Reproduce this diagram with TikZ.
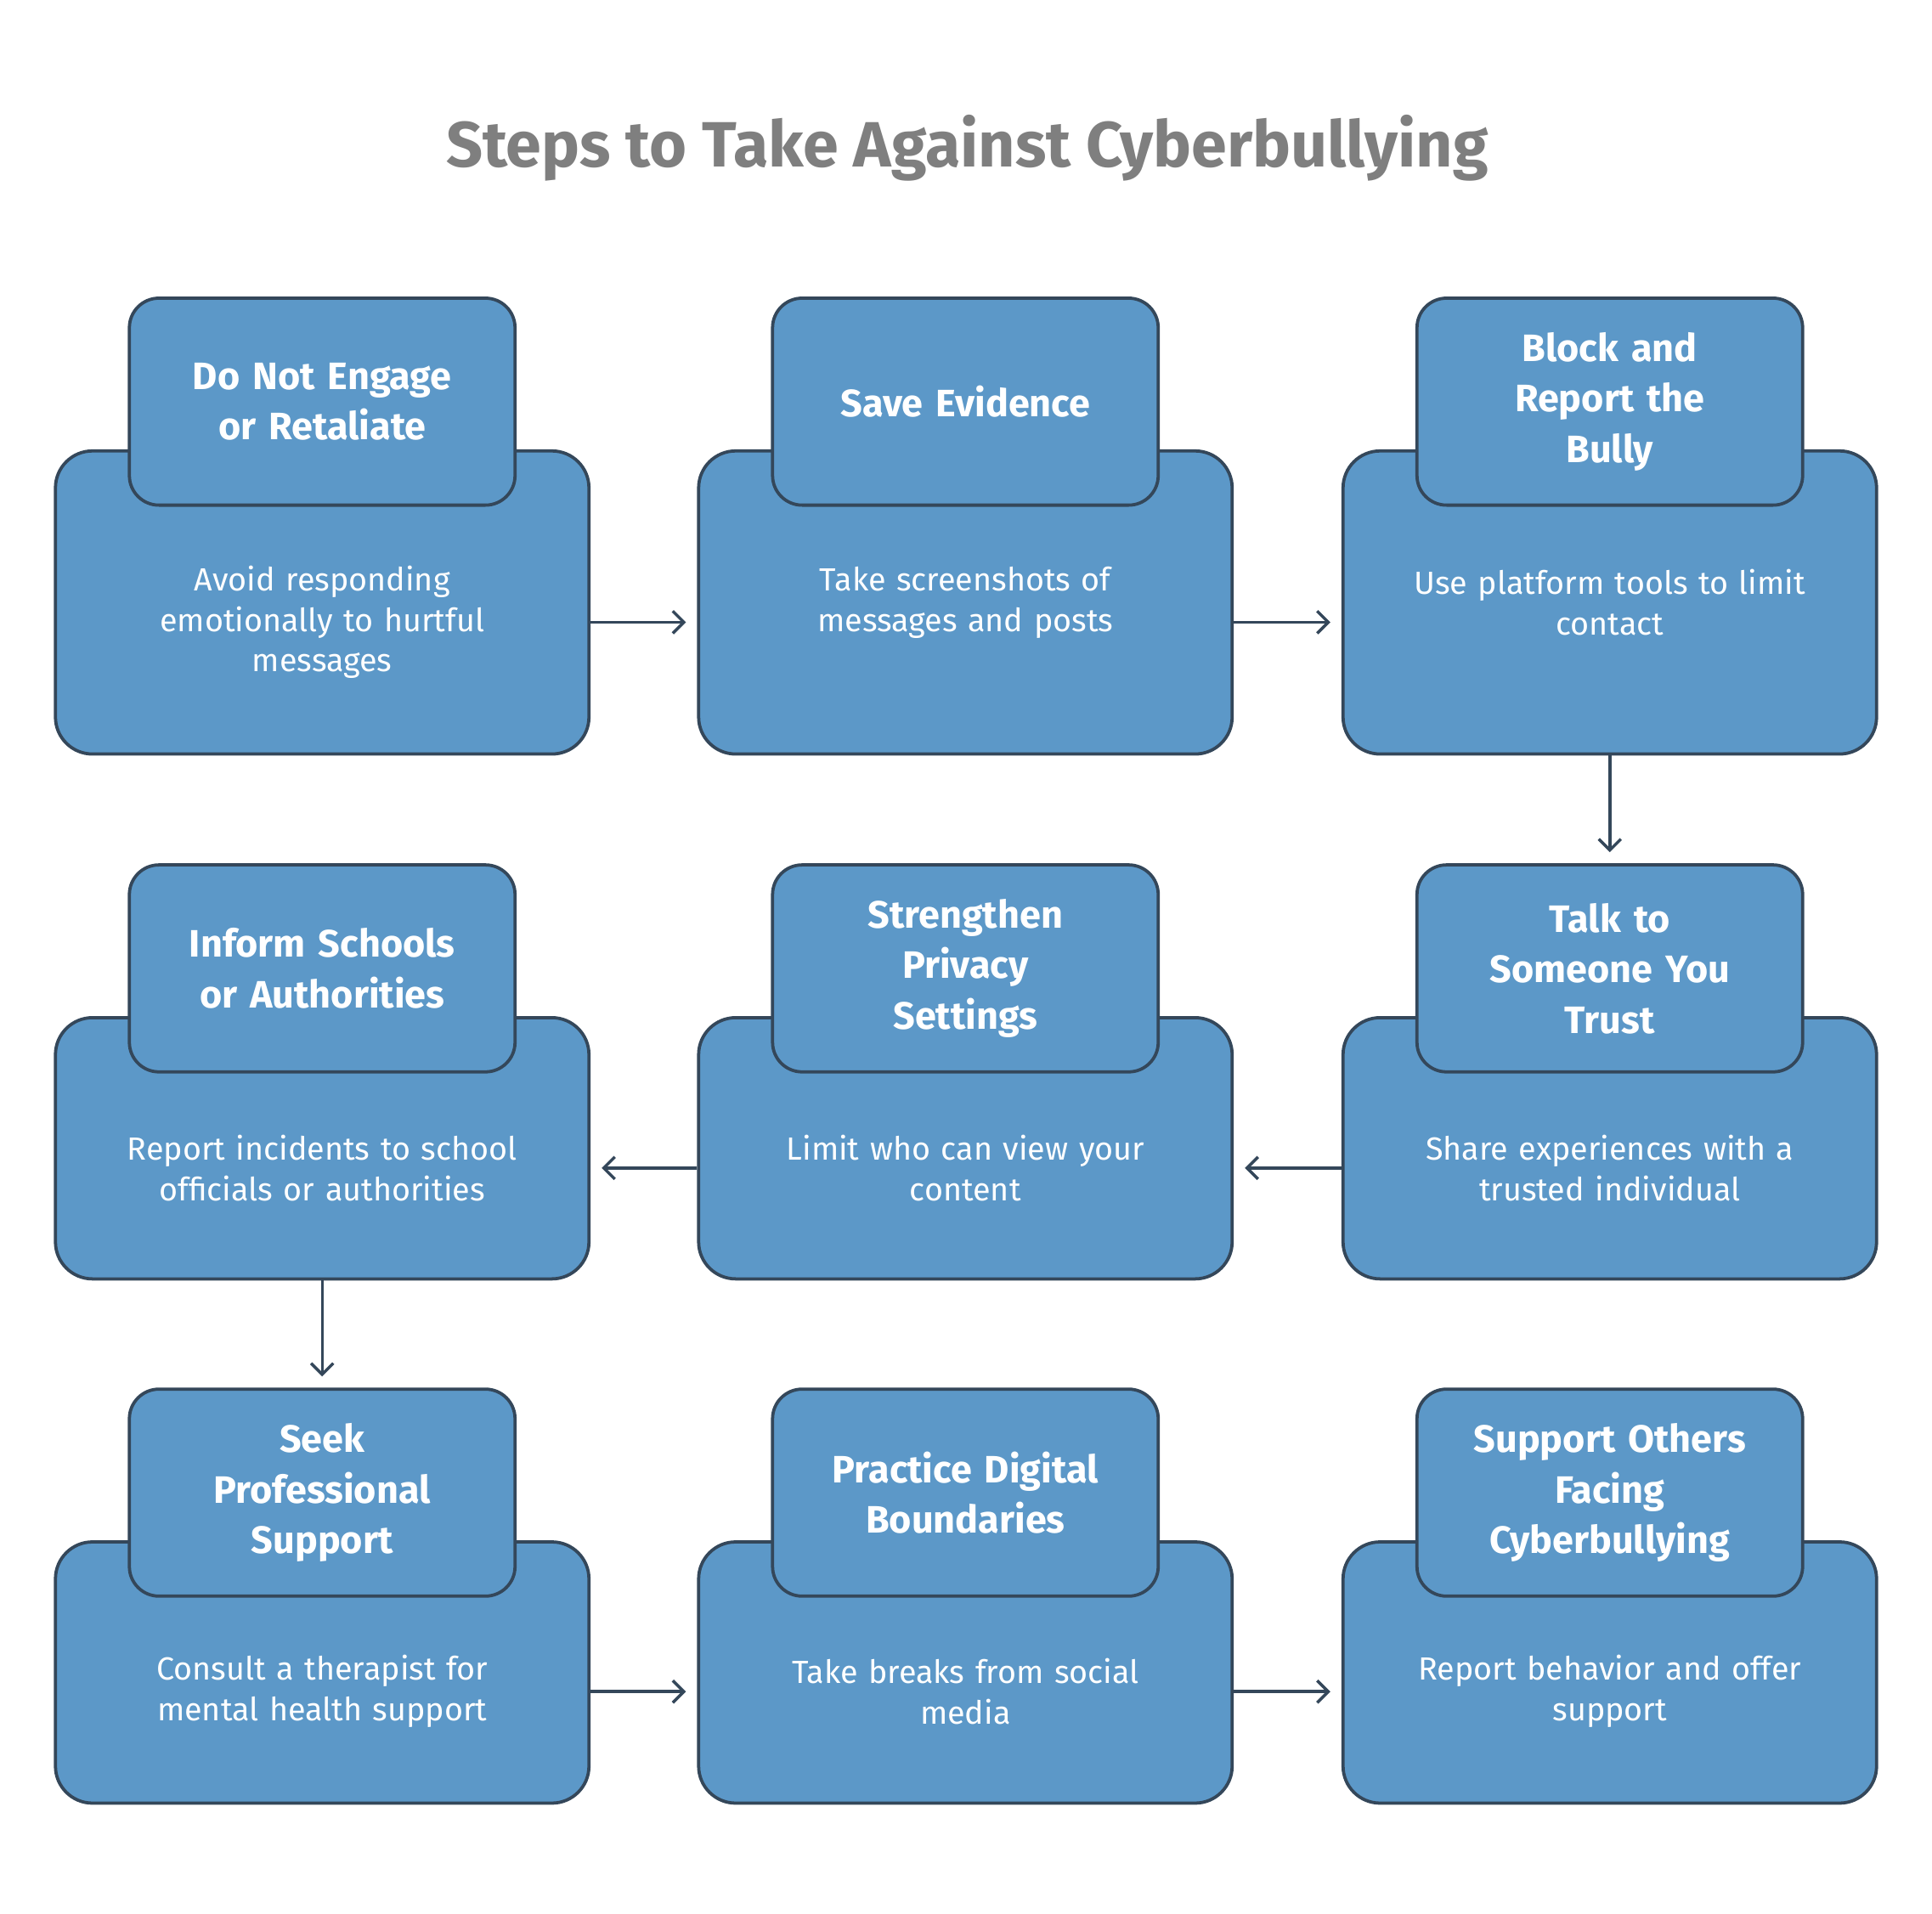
\documentclass[tikz,border=0pt]{standalone}
\usepackage{fontspec}
\setmainfont{Fira Sans}
\usetikzlibrary{arrows.meta,positioning}
\definecolor{boxblue}{HTML}{5C98C8}
\definecolor{edge}{HTML}{34475A}
\definecolor{titlegray}{HTML}{7F7F7F}
\tikzset{
  bigbox/.style={draw=edge,line width=2.6pt,fill=boxblue,rounded corners=30pt,minimum width=433pt,minimum height=212pt},
  headbox/.style={draw=edge,line width=2.6pt,fill=boxblue,rounded corners=24pt,minimum width=313pt,minimum height=168pt},
  headtxt/.style={text=white,font=\fontsize{31}{41}\selectfont\bfseries,align=center,text width=300pt},
  bodytxt/.style={text=white,font=\fontsize{26}{33}\selectfont,align=center,text width=400pt},
  flow/.style={-{Straight Barb[length=9pt,width=18pt]},line width=2.4pt,draw=edge,shorten >=9pt}
}
\begin{document}
\begin{tikzpicture}[x=1pt,y=-1pt]
\useasboundingbox[fill=white] (0,0) rectangle (1568,1553);
\node[text=titlegray,font=\fontsize{52}{56}\selectfont\bfseries] (title) at (785,120) {Steps to Take Against Cyberbullying};

% row 1
\node[bigbox,minimum height=246pt] (big1) at (261.5,489) {};
\node[headbox] (head1) at (261.5,326) {};
\node[headtxt] at (head1) {Do Not Engage\\or Retaliate};
\node[bodytxt] (txt1) at (261.5,505) {Avoid responding\\emotionally to hurtful\\messages};

\node[bigbox,minimum height=246pt] (big2) at (783.5,489) {};
\node[headbox] (head2) at (783.5,326) {};
\node[headtxt] at (head2) {Save Evidence};
\node[bodytxt] (txt2) at (783.5,489) {Take screenshots of\\messages and posts};

\node[bigbox,minimum height=246pt] (big3) at (1306.5,489) {};
\node[headbox] (head3) at (1306.5,326) {};
\node[headtxt] at (head3) {Block and\\Report the\\Bully};
\node[bodytxt] (txt3) at (1306.5,489) {Use platform tools to limit\\contact};

% row 2
\node[bigbox] (big4) at (1306.5,932) {};
\node[headbox] (head4) at (1306.5,786) {};
\node[headtxt] at (head4) {Talk to\\Someone You\\Trust};
\node[bodytxt] (txt4) at (1306.5,948) {Share experiences with a\\trusted individual};

\node[bigbox] (big5) at (783.5,932) {};
\node[headbox] (head5) at (783.5,786) {};
\node[headtxt] at (head5) {Strengthen\\Privacy\\Settings};
\node[bodytxt] (txt5) at (783.5,948) {Limit who can view your\\content};

\node[bigbox] (big6) at (261.5,932) {};
\node[headbox] (head6) at (261.5,786) {};
\node[headtxt] at (head6) {Inform Schools\\or Authorities};
\node[bodytxt] (txt6) at (261.5,948) {Report incidents to school\\officials or authorities};

% row 3
\node[bigbox] (big7) at (261.5,1357.5) {};
\node[headbox] (head7) at (261.5,1211.5) {};
\node[headtxt] at (head7) {Seek\\Professional\\Support};
\node[bodytxt] (txt7) at (261.5,1373) {Consult a therapist for\\mental health support};

\node[bigbox] (big8) at (783.5,1357.5) {};
\node[headbox] (head8) at (783.5,1211.5) {};
\node[headtxt] at (head8) {Practice Digital\\Boundaries};
\node[bodytxt] (txt8) at (783.5,1373) {Take breaks from social\\media};

\node[bigbox] (big9) at (1306.5,1357.5) {};
\node[headbox] (head9) at (1306.5,1211.5) {};
\node[headtxt] at (head9) {Support Others\\Facing\\Cyberbullying};
\node[bodytxt] (txt9) at (1306.5,1373) {Report behavior and offer\\support};

\draw[flow] (big1.east |- 0,505) -- (big2.west |- 0,505);
\draw[flow] (big2.east |- 0,505) -- (big3.west |- 0,505);
\draw[flow] (big3.south) -- (head4.north);
\draw[flow] (big4.west |- 0,948) -- (big5.east |- 0,948);
\draw[flow] (big5.west |- 0,948) -- (big6.east |- 0,948);
\draw[flow] (big6.south) -- (head7.north);
\draw[flow] (big7.east |- 0,1373) -- (big8.west |- 0,1373);
\draw[flow] (big8.east |- 0,1373) -- (big9.west |- 0,1373);
\end{tikzpicture}
\end{document}
